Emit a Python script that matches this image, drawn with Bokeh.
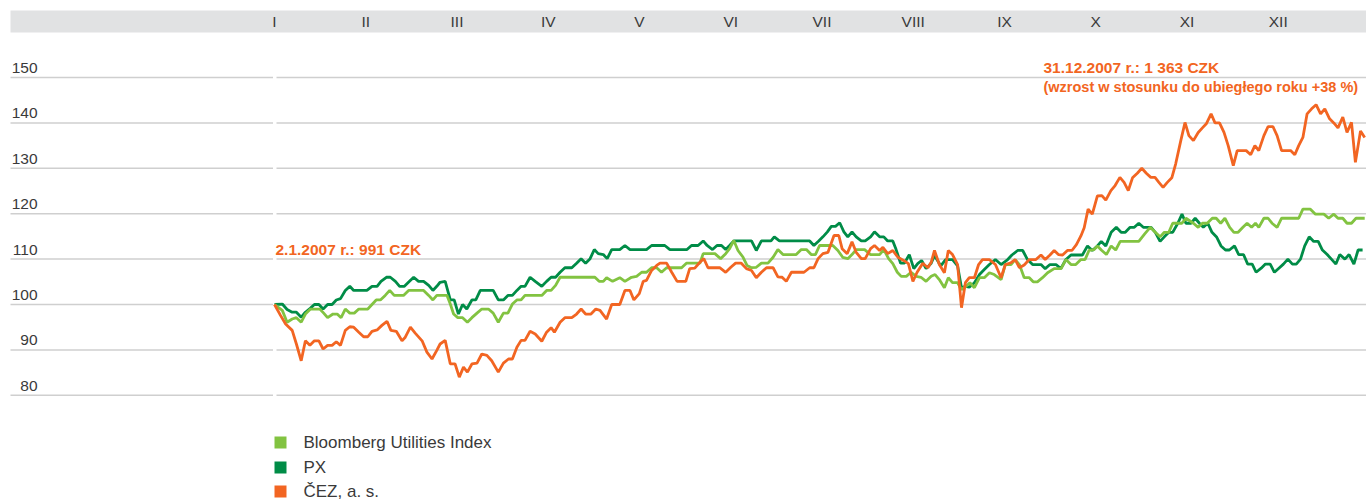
from bokeh.plotting import figure
from bokeh.models import Range1d
from bokeh.core.properties import value
from bokeh.embed import file_html
from bokeh.resources import INLINE

# ---------------- data ----------------
months = ["I", "II", "III", "IV", "V", "VI", "VII", "VIII", "IX", "X", "XI", "XII"]
y_ticks = [80, 90, 100, 110, 120, 130, 140, 150]

# Bloomberg Utilities Index (day of year, index 2.1.2007 = 100)
bui_day = [0, 2.6, 4.2, 5.9, 7.3, 8.9, 10.3, 12.0, 15.1, 16.4, 17.7, 19.5, 20.9, 22.2, 23.6, 25.1, 26.6, 28.1,
           31.1, 32.5, 33.9, 35.3, 36.9, 38.4, 39.9, 43.0, 44.7, 49.7, 51.4, 52.8, 54.1, 57.5, 58.6, 59.7, 61.1,
           62.7, 64.3, 65.8, 67.5, 69.1, 71.3, 72.9, 74.6, 76.3, 77.8, 79.3, 80.8, 82.2, 83.5, 89.1, 90.7, 92.2,
           93.7, 95.2, 106.8, 108.2, 109.6, 110.7, 112.7, 115.1, 116.8, 119.0, 120.7, 122.4, 124.0, 125.7, 127.4,
           129.0, 130.7, 135.7, 137.3, 141.8, 142.9, 146.8, 148.7, 150.4, 151.7, 153.1, 154.5, 156.2, 157.5,
           159.0, 160.6, 162.3, 164.5, 166.2, 167.8, 169.5, 173.9, 175.6, 177.3, 178.9, 180.3, 181.7, 186.1,
           187.8, 189.4, 191.1, 192.5, 193.9, 196.7, 198.7, 201.7, 203.1, 204.7, 206.1, 207.6, 208.9, 210.6,
           212.2, 213.9, 215.5, 217.2, 218.9, 220.2, 221.6, 223.3, 224.6, 226.0, 227.7, 229.0, 230.5, 231.8,
           233.3, 235.0, 236.6, 238.3, 239.9, 242.2, 243.6, 245.5, 246.9, 248.3, 249.9, 251.6, 252.9, 254.3,
           256.0, 257.7, 259.9, 262.2, 263.8, 265.5, 267.1, 268.8, 270.2, 271.5, 273.2, 274.3, 275.6, 277.3,
           278.9, 280.4, 281.9, 288.1, 290.0, 291.9, 293.6, 295.2, 296.6, 298.1, 299.4, 302.5, 303.8, 306.3,
           307.9, 309.3, 310.9, 312.6, 313.9, 315.4, 316.8, 318.4, 319.8, 321.2, 322.8, 324.2, 325.7, 327.0,
           328.1, 329.8, 331.2, 332.5, 334.2, 335.7, 341.4, 342.8, 345.3, 347.0, 349.8, 351.4, 353.1, 354.5,
           356.1, 357.5, 359.0, 360.5, 363.4]
bui_val = [100, 98.7, 96.1, 96.8, 97.1, 96.1, 97.9, 99, 99, 98.1, 97.1, 97.9, 97.9, 97.1, 99, 98.1, 98.1, 99,
           99, 100, 101, 101, 102, 103.1, 102, 102, 103.1, 103.1, 102, 101, 102, 102, 100.1, 97.9, 97.1,
           97.1, 96.1, 97.1, 98.1, 99, 99, 98.1, 96.1, 98.1, 98.1, 100.1, 101, 101, 102, 102, 103.1, 103.1,
           104.2, 106, 106, 105.1, 105.1, 105.9, 105.1, 105.9, 105.1, 106, 106.2, 107.1, 107.1, 108.1, 108.1,
           107.1, 108.1, 108.1, 109.1, 109.1, 111.2, 111.2, 110.1, 111.2, 112.3, 114.1, 111.9, 110.4, 108.6,
           108.1, 108.2, 109.1, 109.1, 110.4, 112.1, 111, 111, 112.1, 112.1, 111, 111, 113, 113,
           111.9, 110.4, 110.1, 111, 112.1, 112.1, 111, 111, 112.1, 110.1, 109, 107.1, 106.2, 106.2,
           107.1, 106.2, 106, 105.1, 106.2, 106.6, 105.5, 103.7, 105.9, 104.8, 104.8, 103.3, 104, 104.8,
           103.7, 105.9, 105.9, 107, 106.6, 105.5, 108.8, 108.8, 109.9, 108.8, 105.9, 105.9, 105, 105,
           105.9, 107, 107.9, 107.9, 109.9, 108.8, 108.8, 109.9, 109.9, 111.9, 112.1, 112.9, 112, 111,
           112.9, 112, 113.9, 113.9, 115.5, 117, 115.9, 114.9, 115.9, 115.9, 117.9, 117.9, 119, 117.9,
           117, 117.9, 117.9, 119, 119, 117.9, 119, 117, 115.9, 115.9, 117, 117.9, 117, 117.9,
           117, 119, 119, 117.9, 117, 119, 119, 121, 121, 119.9, 119.9, 119, 119.9, 119,
           119, 117.9, 117.9, 119, 119]

# PX index
px_day = [0, 2.6, 4.2, 5.9, 7.3, 8.9, 10.3, 12.0, 13.3, 14.8, 16.2, 17.7, 19.2, 20.6, 22.0, 23.6, 25.1, 26.4,
          30.8, 32.5, 34.2, 35.5, 37.3, 38.6, 40.3, 41.7, 43.3, 45.0, 46.4, 48.0, 49.7, 51.4, 52.8, 54.1, 55.2,
          56.9, 58.6, 59.9, 61.3, 62.7, 64.1, 65.8, 67.1, 68.6, 72.9, 74.6, 76.3, 77.8, 79.3, 80.8, 82.2, 83.5,
          85.2, 86.9, 89.1, 90.7, 92.2, 93.7, 95.2, 96.8, 99.1, 100.7, 102.2, 103.7, 105.2, 106.6, 107.9,
          109.6, 110.9, 112.4, 115.1, 116.8, 118.5, 124.0, 125.7, 130.1, 131.8, 137.5, 139.0, 141.2, 142.9,
          144.2, 146.0, 147.5, 149.0, 150.4, 151.7, 153.1, 159.0, 160.6, 162.3, 165.5, 166.6, 168.3, 178.4,
          179.8, 181.4, 182.8, 184.3, 185.6, 187.0, 188.4, 189.8, 191.1, 192.5, 193.9, 195.6, 196.9, 198.7,
          200.0, 201.7, 203.1, 204.4, 206.1, 207.2, 208.7, 210.0, 211.6, 213.1, 214.4, 215.7, 217.2, 218.9,
          220.0, 222.1, 223.7, 226.0, 227.7, 229.0, 230.3, 231.6, 233.3, 235.0, 236.6, 238.3, 240.3, 242.2,
          244.4, 245.8, 247.7, 249.4, 251.0, 252.7, 255.5, 256.9, 258.5, 260.5, 262.1, 263.8, 265.5, 269.3,
          271.0, 272.6, 274.3, 275.6, 277.1, 278.9, 280.6, 282.2, 283.6, 285.2, 286.6, 288.1, 289.6, 292.2,
          293.6, 295.2, 296.6, 298.1, 299.4, 301.1, 302.5, 303.8, 305.5, 306.9, 308.3, 309.6, 311.1, 312.5,
          314.1, 315.5, 317.0, 318.3, 320.0, 321.4, 323.0, 324.4, 325.9, 327.2, 328.9, 330.3, 331.9, 333.3,
          334.8, 336.3, 337.8, 339.3, 340.6, 342.0, 343.4, 344.9, 346.4, 347.9, 349.3, 350.9, 352.3, 353.8,
          355.1, 356.8, 358.2, 359.8, 361.2, 362.7]
px_val = [100, 100.1, 98.9, 98.3, 98.3, 97.2, 98.3, 99.2, 100, 100, 99, 100, 100, 101, 101.3, 103.1, 104, 103.1,
          103.1, 104, 104, 105.1, 106, 106, 105.1, 104, 104, 105.1, 106, 105.1, 105.1, 104.2, 103.1, 104, 104.9,
          105.1, 101, 101, 97.9, 100, 99, 101, 101, 103.1, 103.1, 101, 101, 102, 102, 103.1, 104, 104,
          106, 105.1, 104, 105.1, 106, 106, 107.1, 108.1, 108.1, 109.1, 110.1, 109.1, 110.1, 112.1, 111.2,
          111, 110.1, 112.1, 112.1, 113, 112.1, 112.1, 113, 113, 112.1, 112.1, 113, 113, 114,
          113, 112.1, 113, 113, 112.1, 113, 114, 114, 111.9, 114, 114, 114.9, 114, 114,
          113, 114, 114.9, 116, 117.2, 117.2, 118, 116, 114.9, 116, 114.9, 114, 114, 114.9,
          116, 114.9, 114.9, 114, 114, 112.1, 109.1, 109.1, 111, 107.9, 109, 109.7, 107.9, 109.1,
          110.8, 108.5, 109.9, 109.9, 108.5, 103.7, 104, 103.8, 104.8, 106.6, 107.7, 108.8, 109.9, 108.8,
          109.9, 110.9, 111.9, 111.9, 109.9, 108.8, 108.8, 107.9, 108.8, 108.8, 107.9, 109.9, 110.9, 110.9,
          112.9, 111.9, 112.9, 113.9, 112.9, 115.9, 117, 115.9, 115.9, 117, 117, 117.9, 117, 117,
          115.9, 113.9, 114.9, 115.9, 115.9, 117.9, 119.9, 117.9, 117.9, 119, 117.9, 117, 117.9, 115.9,
          114.8, 112.9, 112, 112, 112.9, 111, 111, 108.9, 108.9, 107.1, 108, 108.9, 108.9, 107.1,
          108, 108.9, 110, 108.9, 108.9, 110, 112.9, 114.9, 113.9, 113.9, 112, 111, 110, 108.9,
          111, 110, 111, 108.9, 112, 112]

# CEZ, a. s. share price (2.1.2007 = 100)
cez_day = [0, 2.0, 3.7, 5.9, 7.3, 8.9, 10.3, 11.8, 13.3, 14.8, 16.2, 17.7, 19.2, 20.6, 22.0, 23.6, 25.1, 26.4,
           28.1, 29.7, 31.1, 32.5, 34.2, 35.8, 37.5, 38.8, 40.6, 42.5, 43.6, 45.3, 46.9, 49.2, 50.8, 52.5, 54.1,
           55.2, 56.9, 58.6, 60.2, 61.6, 63.0, 64.3, 65.8, 67.5, 69.1, 70.8, 72.4, 74.6, 76.3, 78.0, 79.3, 80.8,
           82.2, 83.5, 85.2, 86.9, 89.1, 90.7, 92.2, 93.3, 95.2, 96.8, 99.1, 100.7, 102.2, 103.7, 105.5, 107.1,
           108.5, 110.7, 112.4, 115.1, 116.8, 118.5, 119.8, 121.6, 122.9, 124.0, 125.7, 127.4, 128.5, 130.7,
           132.4, 134.2, 137.1, 138.4, 140.1, 141.8, 143.1, 144.5, 148.4, 150.4, 152.1, 153.7, 155.6, 157.3,
           159.0, 160.6, 162.3, 164.0, 166.2, 167.8, 169.2, 170.6, 172.3, 176.5, 178.4, 179.8, 181.2, 182.8,
           184.5, 186.5, 188.1, 189.2, 190.9, 192.5, 193.9, 195.6, 196.9, 198.7, 200.0, 201.7, 202.8, 204.4,
           206.1, 207.8, 210.0, 211.3, 212.8, 214.2, 216.1, 217.8, 218.9, 220.0, 221.6, 223.3, 224.6, 226.0,
           227.7, 229.0, 230.3, 231.6, 233.3, 234.7, 236.0, 238.3, 240.3, 242.2, 243.6, 245.5, 246.9, 248.3,
           249.9, 251.6, 253.8, 255.5, 256.9, 258.5, 259.9, 261.3, 262.7, 264.3, 265.8, 267.3, 268.8, 269.9,
           271.2, 272.6, 274.3, 275.8, 277.1, 278.8, 280.2, 281.8, 283.2, 284.6, 286.0, 287.6, 289.1, 290.6,
           292.1, 293.5, 294.8, 296.2, 297.6, 299.1, 300.4, 302.1, 303.5, 304.8, 306.3, 307.9, 309.3, 310.6,
           312.2, 313.5, 315.0, 316.5, 317.9, 319.6, 320.9, 323.9, 325.4, 326.8, 328.1, 329.8, 331.2, 332.8,
           334.2, 335.7, 338.7, 340.1, 341.4, 342.8, 344.2, 345.7, 347.2, 348.7, 350.1, 351.7, 353.1, 354.5,
           356.1, 357.5, 359.0, 360.3, 362.0, 363.4]
cez_val = [100, 97.6, 95.7, 94.3, 91.3, 87.6, 92, 91, 92, 92, 90.2, 91, 91, 91.8, 91, 94.3, 95.1, 95,
           93.9, 92.9, 92.9, 94.1, 94.4, 95.4, 96.3, 94.3, 94.1, 92, 92.8, 95, 93.7, 92, 89.5, 88, 89.9,
           91.3, 92.1, 86.9, 86.9, 84, 86.2, 85.1, 86.9, 87.1, 89.1, 88.8, 87.6, 85.1, 87.1, 88, 88, 90.6,
           92.1, 92.1, 94.1, 93.5, 91.9, 93.9, 94.9, 93.9, 96.1, 97.1, 97.1, 97.9, 99, 97.9, 97.9, 99,
           98.7, 96.8, 100, 100, 103.1, 103.1, 101, 102.4, 105.1, 105.3, 107.5, 108.6, 109.1, 109.1,
           107.1, 105.1, 105.1, 107.9, 108, 109.3, 110.1, 108.1, 108.1, 107.1, 108.2, 109.1, 109.1, 107.9,
           107.5, 105.9, 107.1, 108.1, 108.1, 106.1, 106, 105.1, 107.1, 107.1, 108.1, 108.1, 110.1, 111.2,
           111.5, 115.2, 115.2, 112.3, 111.2, 113.8, 111.5, 110.1, 110.1, 112.3, 113, 111.9, 112.6, 111.2,
           111.9, 110.4, 109.6, 109, 105.1, 107.1, 109.1, 108.1, 109.3, 111.9, 108.8, 107, 111.9, 111,
           108.8, 99.3, 104.8, 105.9, 105.9, 108.8, 109.9, 109.9, 108.8, 105.9, 108.8, 109.2, 109.9, 108.1,
           108.7, 109.9, 109.9, 110.9, 109.9, 110.9, 111.9, 111, 110.9, 111.9, 111.9, 113.2, 115.1, 116.9,
           121, 119.9, 123.9, 124, 123, 125.1, 126.2, 128, 126.9, 125.1, 127.9, 128.9, 130, 128.9,
           128, 128, 126.9, 125.8, 126.9, 127.9, 131, 136.1, 140.1, 137.2, 136.1, 137.9, 138.9, 139.8,
           142, 140, 140, 137.9, 135, 130.6, 133.9, 133.9, 133, 135, 133.9, 137.2, 139.2, 139.2,
           137.2, 133.9, 133.9, 133, 135, 136.8, 142, 143.1, 144, 142, 143.1, 140.9, 140, 138.9,
           141.3, 137.9, 140.1, 131.3, 138.2, 136.8]

series_names = ["Bloomberg Utilities Index", "PX", "ČEZ, a. s."]
series_colors = ["#82c341", "#008c47", "#f26522"]

label_start = "2.1.2007 r.: 991 CZK"
label_end_1 = "31.12.2007 r.: 1 363 CZK"
label_end_2 = "(wzrost w stosunku do ubiegłego roku +38 %)"

# ---------------- layout ----------------
W, H = 1366, 504
ORIGIN = 0          # page offset of the figure (Bokeh's page template has no body margin)
PX_PER_DAY = 3.0
DAY0_PAGE_X = 274
PX_PER_UNIT = 4.54
V100_PAGE_Y = 304


def dx(page_x):
    return (page_x - DAY0_PAGE_X) / PX_PER_DAY


def vy(page_y):
    return 100 + (V100_PAGE_Y - page_y) / PX_PER_UNIT


x_start = dx(ORIGIN)
x_end = dx(ORIGIN + W)
y_top = vy(ORIGIN)
y_bottom = vy(ORIGIN + H)

FONT = value("Liberation Sans")
TEXT_COLOR = "#3a3a3a"

p = figure(width=W, height=H, x_range=Range1d(x_start, x_end), y_range=Range1d(y_bottom, y_top),
           x_axis_type=None, y_axis_type=None, output_backend="svg", toolbar_location=None,
           min_border=0, min_border_left=0, min_border_right=0, min_border_top=0, min_border_bottom=0,
           outline_line_color=None, background_fill_color="white", border_fill_color="white")

# header band with month labels
p.quad(left=[dx(10)], right=[dx(1500)], top=[vy(10)], bottom=[vy(32)],
       fill_color="#e1e2e3", line_color=None)
month_days = [i * 365 / 12 for i in range(len(months))]
p.text(x=month_days, y=[vy(21)] * len(months), text=months, text_align="center",
       text_baseline="middle", text_font=FONT, text_font_size="15.5px", text_color=TEXT_COLOR)

# horizontal gridlines (broken at the start of the year)
n = len(y_ticks)
p.segment(x0=[dx(10)] * n, x1=[dx(272.5)] * n, y0=y_ticks, y1=y_ticks,
          line_color="#cfcfcf", line_width=1.5)
p.segment(x0=[dx(276)] * n, x1=[dx(1500)] * n, y0=y_ticks, y1=y_ticks,
          line_color="#cfcfcf", line_width=1.5)
p.text(x=[dx(37)] * n, y=y_ticks, text=[str(t) for t in y_ticks], text_align="right",
       text_baseline="middle", y_offset=-9.5, text_font=FONT, text_font_size="15.5px",
       text_color=TEXT_COLOR)

# series
p.line(px_day, px_val, line_color=series_colors[1], line_width=2.8)
p.line(bui_day, bui_val, line_color=series_colors[0], line_width=2.8)
p.line(cez_day, cez_val, line_color=series_colors[2], line_width=2.8)

# annotations
ORANGE = series_colors[2]
p.text(x=[dx(275)], y=[110], text=[label_start], text_align="left", text_baseline="middle",
       y_offset=-9.5, text_font=FONT, text_font_style="bold", text_font_size="15.5px", text_color=ORANGE)
p.text(x=[dx(1043)], y=[150], text=[label_end_1], text_align="left",
       text_baseline="middle", y_offset=-10, text_font=FONT, text_font_style="bold",
       text_font_size="15.5px", text_color=ORANGE)
p.text(x=[dx(1043)], y=[150], text=[label_end_2], text_align="left",
       text_baseline="middle", y_offset=9.5, text_font=FONT, text_font_style="bold",
       text_font_size="14.5px", text_color=ORANGE)

# legend
rows = [442, 467, 491]
p.scatter(x=[dx(280)] * 3, y=[vy(r) for r in rows], marker="square", size=12,
          fill_color=series_colors, line_color=None)
p.text(x=[dx(303)] * 3, y=[vy(r) for r in rows], text=series_names, text_align="left",
       text_baseline="middle", text_font=FONT, text_font_size="17px", text_color=TEXT_COLOR)

open("out.html", "w").write(file_html(p, INLINE))
